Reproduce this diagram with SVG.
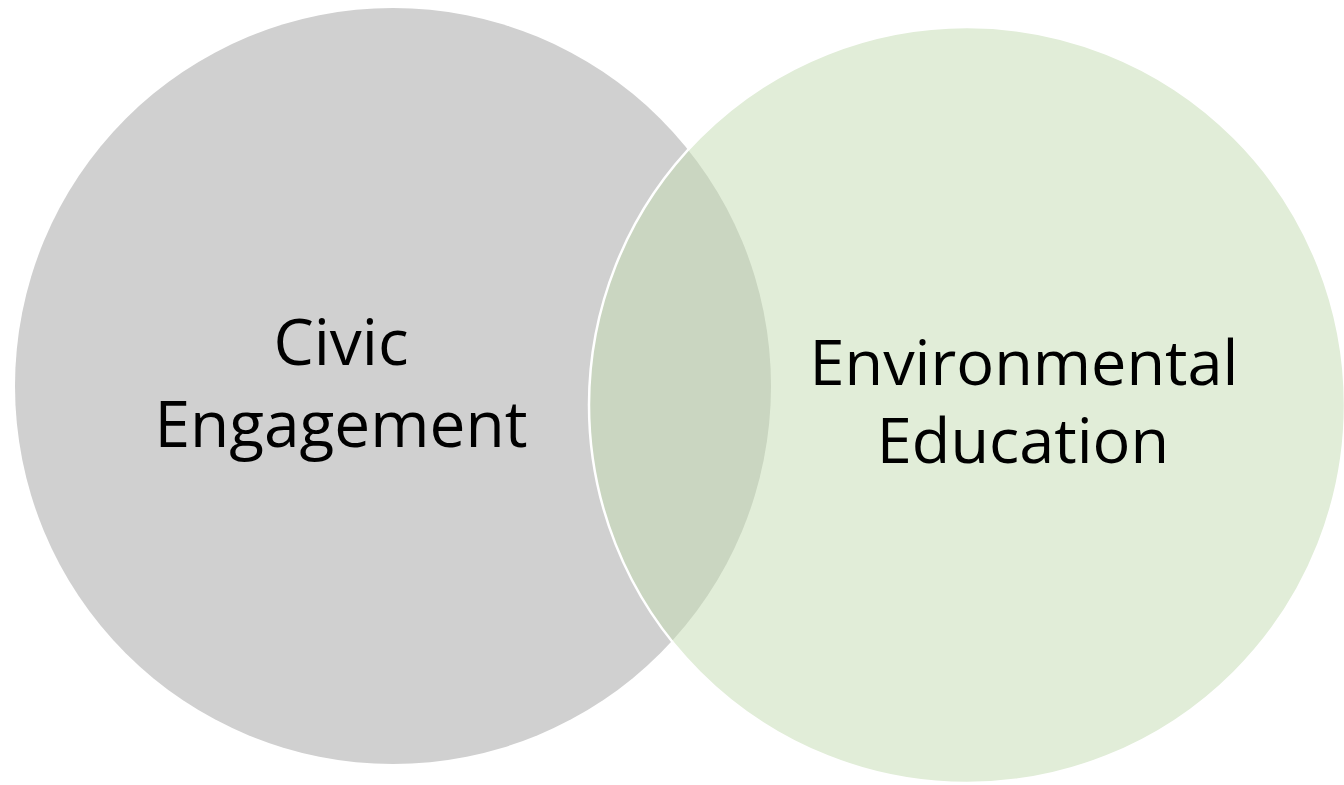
<svg xmlns="http://www.w3.org/2000/svg" width="1344" height="785" viewBox="0 0 1344 785">
  <style>
    .lbl { font-family: "Open Sans", "Liberation Sans", sans-serif; font-size: 63px; fill: #000000; text-anchor: middle; }
    .big { font-size: 64px; }
  </style>
  <rect width="1344" height="785" fill="#ffffff"/>
  <g id="node-civic">
    <circle cx="393" cy="386" r="378" fill="#d0d0d0"/>
    <text class="lbl big" x="341" y="365">Civic</text>
    <text class="lbl big" x="341" y="447">Engagement</text>
  </g>
  <g id="node-environmental">
    <circle cx="967" cy="405" r="378" fill="#c3dbb1" fill-opacity="0.5" stroke="#ffffff" stroke-width="2.5"/>
    <text class="lbl" x="1024" y="385">Environmental</text>
    <text class="lbl" x="1023" y="463">Education</text>
  </g>
  <g id="connectors"></g>
</svg>
